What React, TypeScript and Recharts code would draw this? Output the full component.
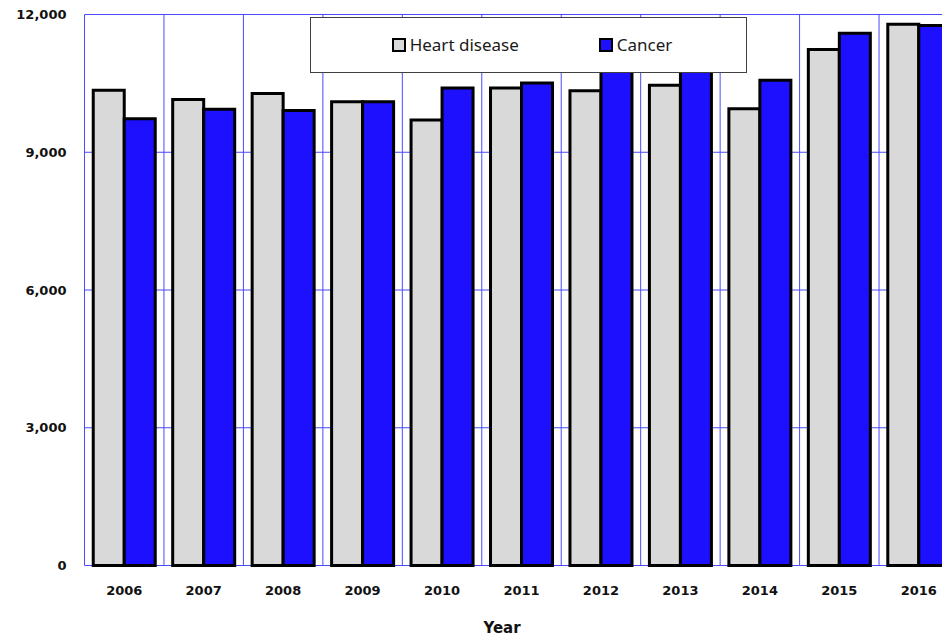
import React from 'react';
import {
  Bar,
  BarChart,
  CartesianGrid,
  Label,
  Legend,
  XAxis,
  YAxis,
} from 'recharts';

const YEARS = ['2006', '2007', '2008', '2009', '2010', '2011', '2012', '2013', '2014', '2015', '2016'];
const HEART = [10350, 10150, 10280, 10100, 9700, 10400, 10340, 10460, 9950, 11240, 11790];
const CANCER = [9730, 9935, 9910, 10100, 10400, 10510, 10900, 10950, 10570, 11590, 11760];
const Y_TICKS = [0, 3000, 6000, 9000, 12000];
const SERIES_ORDER = ['heart', 'cancer'];

const COLORS: Record<string, string> = {
  heart: '#d9d9d9',
  cancer: '#1c10ff',
};
const GRID_BLUE = '#4a4aff';
const TICK_FONT = { fontFamily: '"DejaVu Sans", Verdana, sans-serif', fontSize: 13, fontWeight: 700, fill: '#111' };

const rows = YEARS.map((year, i) => ({
  year,
  heart: HEART[i],
  cancer: CANCER[i],
}));

function LegendBox({ payload }: any) {
  const items = [...(payload || [])].sort(
    (a: any, b: any) => SERIES_ORDER.indexOf(a.dataKey) - SERIES_ORDER.indexOf(b.dataKey)
  );
  return (
    <div
      style={{
        display: 'flex',
        alignItems: 'center',
        justifyContent: 'center',
        height: '100%',
        paddingLeft: 7,
        boxSizing: 'border-box',
        fontFamily: '"Noto Sans", sans-serif',
        fontSize: 17,
        color: '#1a1a1a',
        gap: 80,
      }}
    >
      {items.map((p: any) => (
        <span key={p.dataKey} style={{ display: 'flex', alignItems: 'center' }}>
          <span
            style={{
              display: 'inline-block',
              width: 10,
              height: 10,
              border: '2px solid #000',
              background: COLORS[p.dataKey] ?? p.color,
              marginRight: 4,
            }}
          />
          <span style={{ lineHeight: '20px' }}>{p.value}</span>
        </span>
      ))}
    </div>
  );
}

export default function App() {
  const n = YEARS.length;
  return (
    <div
      style={{
        position: 'fixed',
        left: 0,
        top: 0,
        width: 942,
        height: 637,
        overflow: 'hidden',
        background: '#fff',
      }}
    >
      <BarChart
        width={960}
        height={637}
        data={rows}
        margin={{ top: 14.5, right: 1.5, bottom: 0, left: 0 }}
        barCategoryGap="11%"
        barGap={0}
      >
        <CartesianGrid
          stroke={GRID_BLUE}
          strokeWidth={1}
          verticalCoordinatesGenerator={({ offset }: any) =>
            Array.from({ length: n + 1 }, (_, i) => offset.left + (i * offset.width) / n)
          }
        />
        <XAxis
          dataKey="year"
          height={71.5}
          axisLine={false}
          tickLine={false}
          tickSize={0}
          tickMargin={20}
          tick={TICK_FONT}
          interval={0}
        >
          <Label
            value="Year"
            position="insideBottom"
            offset={4}
            dx={-19.5}
            style={{ fontFamily: '"DejaVu Sans", Verdana, sans-serif', fontSize: 15, fontWeight: 700, fill: '#111' }}
          />
        </XAxis>
        <YAxis
          width={84.5}
          domain={[0, 12000]}
          ticks={Y_TICKS}
          axisLine={false}
          tickLine={false}
          tickSize={0}
          tickMargin={18}
          tick={TICK_FONT}
          tickFormatter={(v: number) => v.toLocaleString('en-US')}
        />
        <Legend
          layout="vertical"
          align="center"
          verticalAlign="middle"
          content={<LegendBox />}
          wrapperStyle={{
            position: 'absolute',
            left: 310,
            top: 17,
            width: 437,
            height: 56,
            border: '1px solid #404040',
            background: '#fff',
            boxSizing: 'border-box',
          }}
        />
        <Bar
          dataKey="heart"
          name="Heart disease"
          fill={COLORS.heart}
          stroke="#000"
          strokeWidth={3}
          isAnimationActive={false}
        />
        <Bar
          dataKey="cancer"
          name="Cancer"
          fill={COLORS.cancer}
          stroke="#000"
          strokeWidth={3}
          isAnimationActive={false}
        />
      </BarChart>
    </div>
  );
}
